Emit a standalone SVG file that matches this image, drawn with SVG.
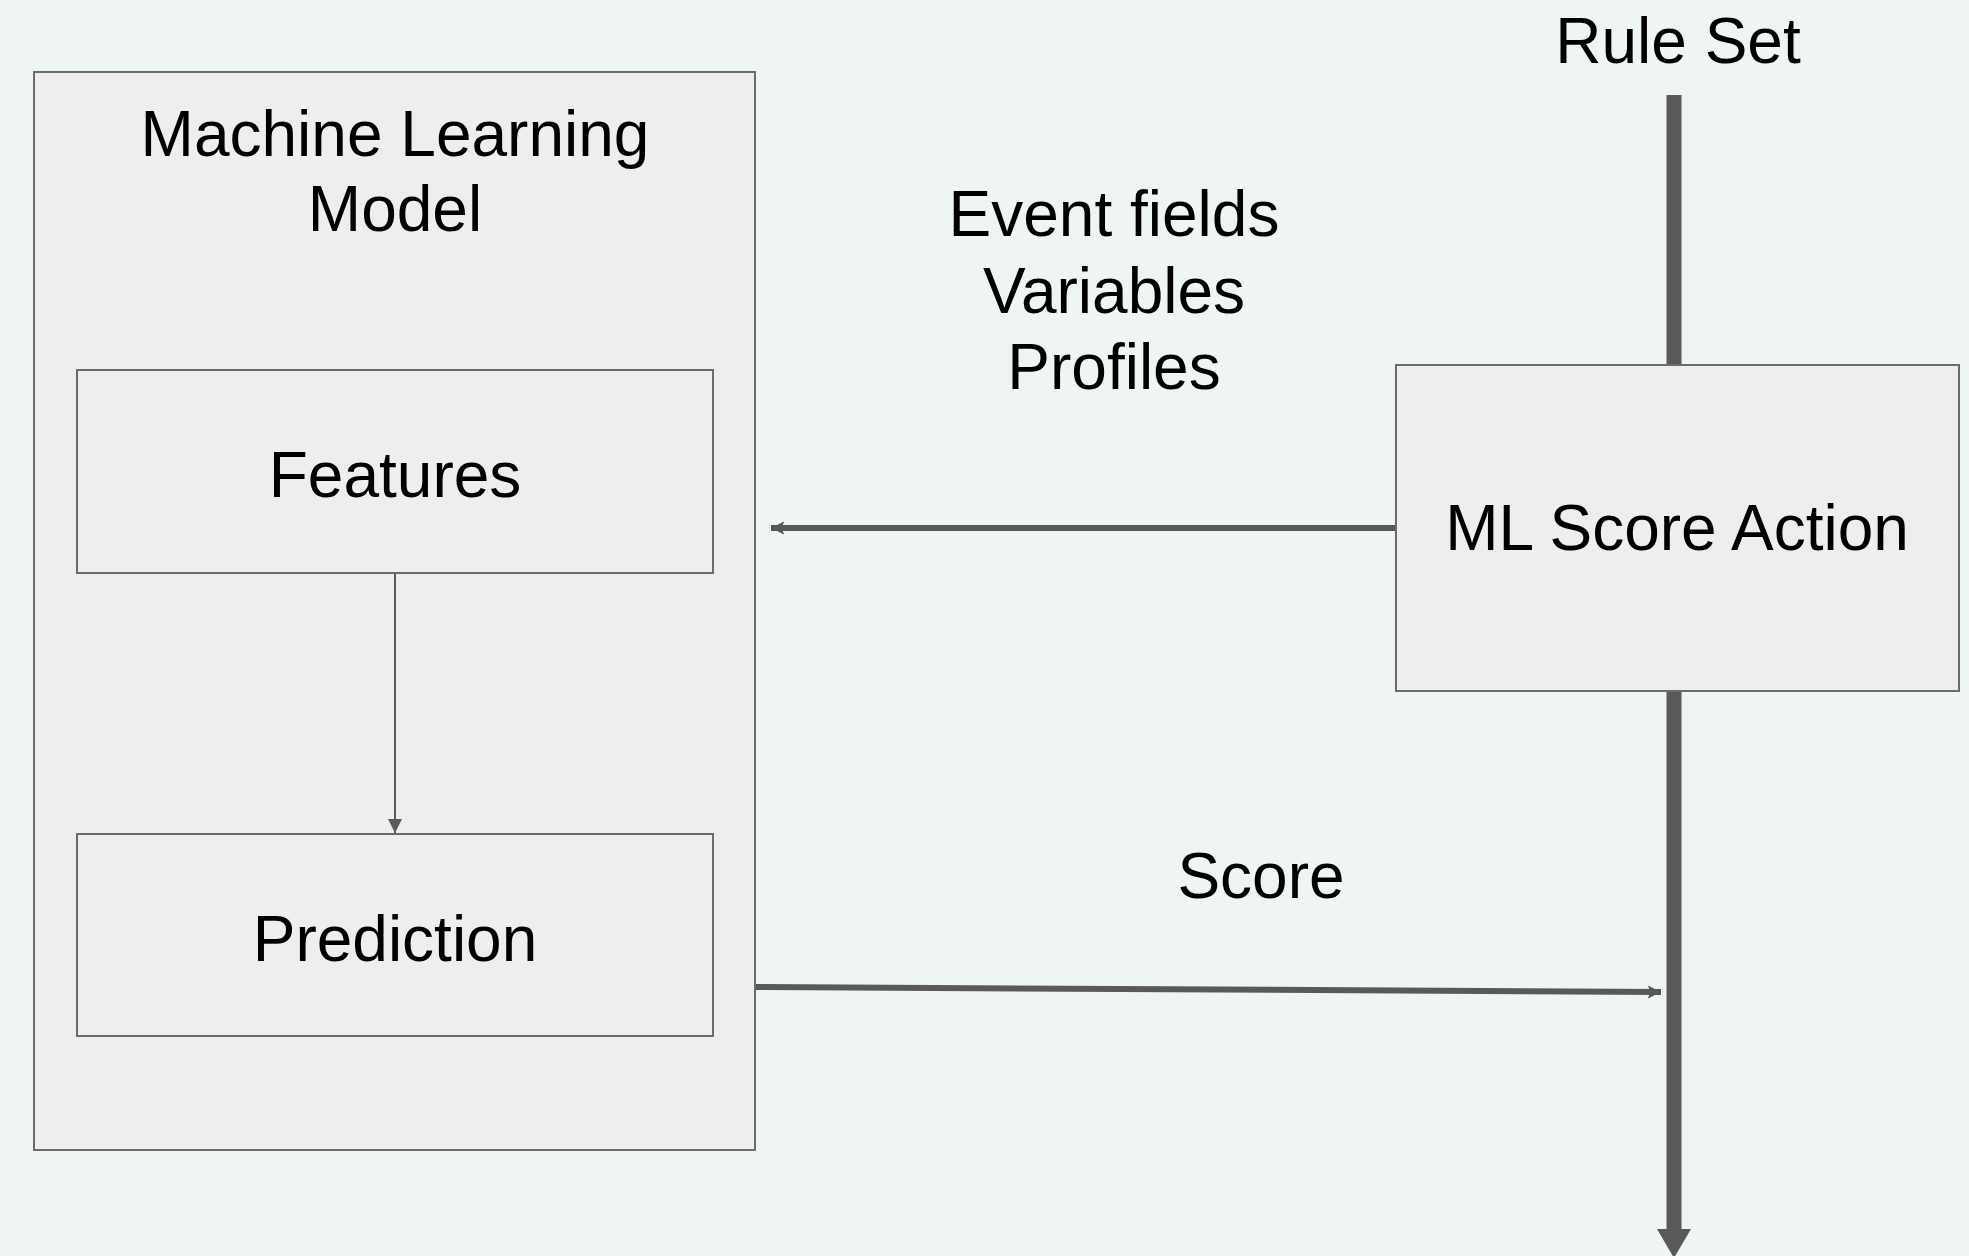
<svg xmlns="http://www.w3.org/2000/svg" width="1969" height="1256" viewBox="0 0 1969 1256">
<style>
.box{fill:#eeeeee;stroke:#6b6b6b;stroke-width:2}
.t{font-family:"Liberation Sans",Arial,sans-serif;font-size:64px;fill:#000;text-anchor:middle}
.c{stroke:#595959;fill:none}
</style>
<defs>
<marker id="ah" viewBox="0 0 10 10" refX="10" refY="5" markerWidth="2.2" markerHeight="2.2" markerUnits="strokeWidth" orient="auto">
<path d="M0,0 L10,5 L0,10 L2,5 z" fill="#595959"/>
</marker>
<marker id="ahs" viewBox="0 0 10 10" refX="10" refY="5" markerWidth="7" markerHeight="7" markerUnits="strokeWidth" orient="auto">
<path d="M0,0 L10,5 L0,10 z" fill="#595959"/>
</marker>
</defs>
<rect width="1969" height="1256" fill="#eff5f3"/>
<g id="ml-model">
<rect class="box" x="34" y="72" width="721" height="1078"/>
<text class="t" x="395" y="156">Machine Learning</text>
<text class="t" x="395" y="231">Model</text>
</g>
<g id="features">
<rect class="box" x="77" y="370" width="636" height="203"/>
<text class="t" x="395" y="497">Features</text>
</g>
<g id="prediction">
<rect class="box" x="77" y="834" width="636" height="202"/>
<text class="t" x="395" y="961">Prediction</text>
</g>
<g id="ml-score-action">
<rect class="box" x="1396" y="365" width="563" height="326"/>
<text class="t" x="1677" y="550">ML Score Action</text>
</g>
<g id="connectors">
<line class="c" x1="1674" y1="95" x2="1674" y2="364" stroke-width="15"/>
<line class="c" x1="1674" y1="692" x2="1674" y2="1230" stroke-width="15"/>
<polygon points="1657,1229 1691,1229 1674,1258" fill="#595959"/>
<line class="c" x1="1395" y1="528" x2="771" y2="528" stroke-width="6" marker-end="url(#ah)"/>
<line class="c" x1="756" y1="987" x2="1661" y2="992" stroke-width="6" marker-end="url(#ah)"/>
<line class="c" x1="395" y1="574" x2="395" y2="833" stroke-width="2" marker-end="url(#ahs)"/>
</g>
<g id="labels">
<text class="t" x="1678" y="63">Rule Set</text>
<text class="t" x="1114" y="236">Event fields</text>
<text class="t" x="1114" y="313">Variables</text>
<text class="t" x="1114" y="389">Profiles</text>
<text class="t" x="1261" y="898">Score</text>
</g>
</svg>
